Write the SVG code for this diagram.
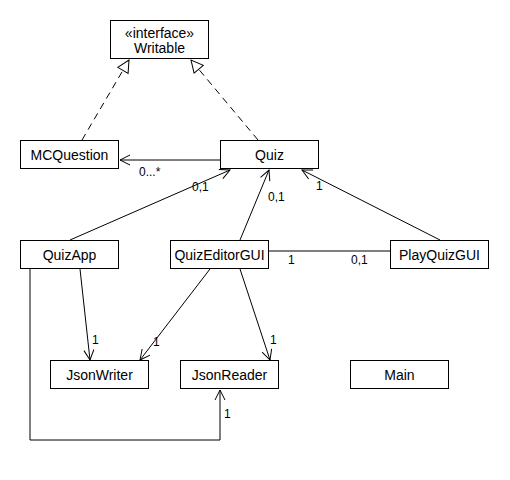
<svg xmlns="http://www.w3.org/2000/svg" width="510" height="480" viewBox="0 0 510 480">
<style>
.box{fill:#fff;stroke:#000;stroke-width:1}
.t{font-family:"Liberation Sans",Arial,sans-serif;font-size:14px;fill:#000}
.l{font-family:"Liberation Sans",Arial,sans-serif;font-size:12px;fill:#000}
.c{text-anchor:middle}
.ln{fill:none;stroke:#000;stroke-width:1}
.dash{stroke-dasharray:7,5}
</style>
<defs>
<marker id="open" viewBox="0 0 12 12" refX="11" refY="6" markerWidth="12" markerHeight="12" markerUnits="userSpaceOnUse" orient="auto">
<path d="M1,1 L11,6 L1,11" fill="none" stroke="#000" stroke-width="1"/>
</marker>
<marker id="tri" viewBox="0 0 14 14" refX="13" refY="7" markerWidth="14" markerHeight="14" markerUnits="userSpaceOnUse" orient="auto">
<path d="M1,1 L13,7 L1,13 Z" fill="#fff" stroke="#000" stroke-width="1"/>
</marker>
</defs>
<rect width="510" height="480" fill="#fff"/>
<g id="connectors">
<line class="ln dash" x1="82" y1="140" x2="129" y2="60" marker-end="url(#tri)"/>
<line class="ln dash" x1="258" y1="140" x2="191" y2="60" marker-end="url(#tri)"/>
<line class="ln" x1="220" y1="160" x2="120" y2="160" marker-end="url(#open)"/>
<text class="l" x="139" y="176">0...*</text>
<line class="ln" x1="70" y1="240" x2="230" y2="170" marker-end="url(#open)"/>
<text class="l" x="192" y="191">0,1</text>
<line class="ln" x1="240" y1="240" x2="269" y2="170" marker-end="url(#open)"/>
<text class="l" x="268" y="201">0,1</text>
<line class="ln" x1="440" y1="240" x2="302" y2="170" marker-end="url(#open)"/>
<text class="l" x="316" y="190">1</text>
<line class="ln" x1="269" y1="251" x2="390" y2="251"/>
<text class="l" x="288" y="264">1</text>
<text class="l" x="351" y="264">0,1</text>
<line class="ln" x1="80" y1="269" x2="90" y2="360" marker-end="url(#open)"/>
<text class="l" x="92" y="344">1</text>
<line class="ln" x1="210" y1="269" x2="140" y2="360" marker-end="url(#open)"/>
<text class="l" x="153" y="346">1</text>
<line class="ln" x1="240" y1="269" x2="270" y2="360" marker-end="url(#open)"/>
<text class="l" x="270" y="344">1</text>
<polyline class="ln" points="30,269 30,440 220,440 220,390" marker-end="url(#open)"/>
<text class="l" x="224" y="418">1</text>
</g>
<g id="Writable"><rect class="box" x="110.5" y="20.5" width="98" height="38"/><text class="t c" x="159.5" y="38">«interface»</text><text class="t c" x="159.5" y="53">Writable</text></g>
<g id="MCQuestion"><rect class="box" x="20.5" y="140.5" width="98" height="28"/><text class="t c" x="69.5" y="160">MCQuestion</text></g>
<g id="Quiz"><rect class="box" x="220.5" y="140.5" width="98" height="28"/><text class="t c" x="269.5" y="160">Quiz</text></g>
<g id="QuizApp"><rect class="box" x="20.5" y="240.5" width="98" height="28"/><text class="t c" x="69.5" y="260">QuizApp</text></g>
<g id="QuizEditorGUI"><rect class="box" x="170.5" y="240.5" width="98" height="28"/><text class="t c" x="219.5" y="260">QuizEditorGUI</text></g>
<g id="PlayQuizGUI"><rect class="box" x="390.5" y="240.5" width="98" height="28"/><text class="t c" x="439.5" y="260">PlayQuizGUI</text></g>
<g id="JsonWriter"><rect class="box" x="50.5" y="360.5" width="98" height="28"/><text class="t c" x="99.5" y="380">JsonWriter</text></g>
<g id="JsonReader"><rect class="box" x="180.5" y="360.5" width="98" height="28"/><text class="t c" x="229.5" y="380">JsonReader</text></g>
<g id="Main"><rect class="box" x="350.5" y="360.5" width="98" height="28"/><text class="t c" x="399.5" y="380">Main</text></g>
</svg>
